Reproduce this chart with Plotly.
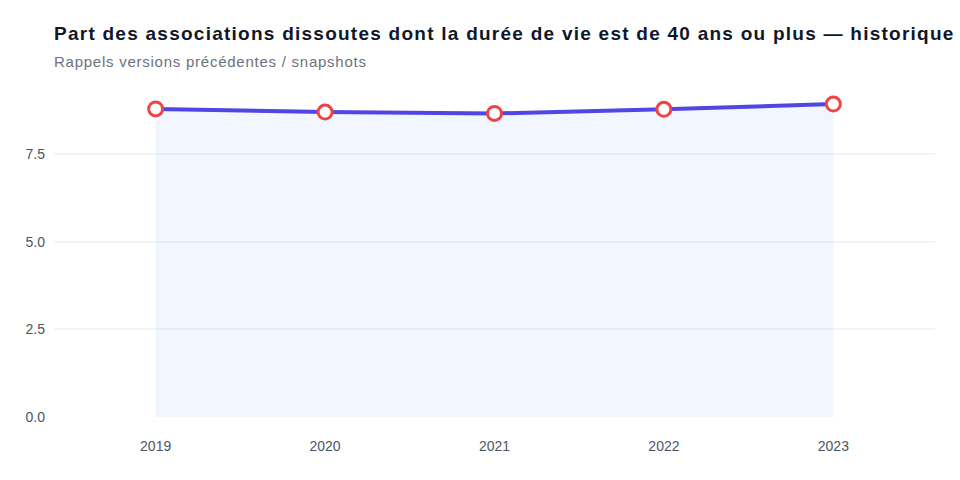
import plotly.graph_objects as go

years = ["2019", "2020", "2021", "2022", "2023"]
values = [8.79, 8.70, 8.66, 8.78, 8.93]
y_ticks = [0, 2.5, 5.0, 7.5]
y_tick_labels = ["0.0", "2.5", "5.0", "7.5"]

title = "Part des associations dissoutes dont la durée de vie est de 40 ans ou plus — historique"
subtitle = "Rappels versions précédentes / snapshots"

W, H = 960, 480
ML, MR, MT, MB = 54, 25, 90, 63
PW, PH = W - ML - MR, H - MT - MB

fig = go.Figure()
fig.add_trace(go.Scatter(
    x=years, y=values,
    mode="lines+markers",
    fill="tozeroy",
    fillcolor="rgba(37,99,235,0.06)",
    line=dict(color="#4f46e5", width=4),
    marker=dict(size=14, color="white", line=dict(color="#ef4444", width=3)),
    hoverinfo="x+y",
))

fig.update_layout(
    width=W, height=H,
    margin=dict(l=ML, r=MR, t=MT, b=MB),
    paper_bgcolor="white", plot_bgcolor="white",
    font=dict(family="Liberation Sans, Arial, sans-serif", color="#4b5563", size=14),
    showlegend=False,
    annotations=[
        dict(text="<span style='letter-spacing:1.25px'><b>" + title + "</b></span>",
             x=0, y=(H - MB - 33) / PH, xref="paper", yref="paper", xshift=-2, yshift=-0.5,
             showarrow=False, xanchor="left", yanchor="middle",
             font=dict(size=19, color="#0f172a")),
        dict(text="<span style='letter-spacing:0.75px'>" + subtitle + "</span>",
             x=0, y=(H - MB - 61) / PH, xref="paper", yref="paper", xshift=-2,
             showarrow=False, xanchor="left", yanchor="middle",
             font=dict(size=15, color="#6b7280")),
    ],
)

fig.update_xaxes(type="category", range=[-0.6, 4.6], showgrid=False, zeroline=False,
                 showline=False, ticks="", ticklabelstandoff=19,
                 tickfont=dict(size=14, color="#4b5563"))
fig.update_yaxes(range=[0, 9.33], tickvals=y_ticks, ticktext=y_tick_labels,
                 showgrid=True, gridcolor="#f3f4f8", gridwidth=1.5, zeroline=False,
                 showline=False, ticks="", ticklabelstandoff=8,
                 tickfont=dict(size=14, color="#4b5563"))

fig.write_html("out.html")
